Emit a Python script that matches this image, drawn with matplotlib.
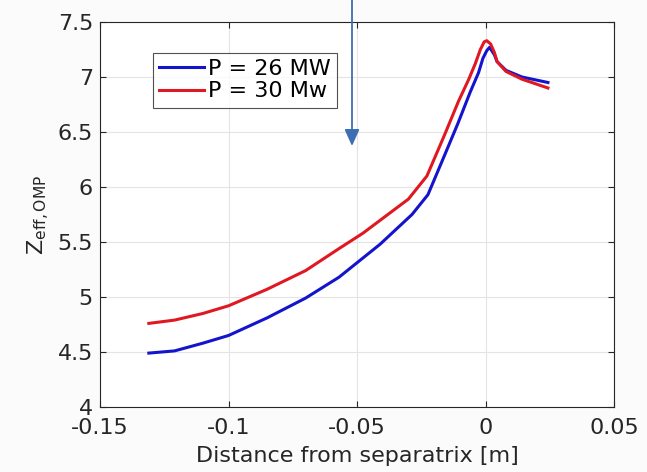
import matplotlib
matplotlib.use("Agg")
import matplotlib.pyplot as plt

# distance from separatrix [m] and Zeff at the outer midplane
x_26mw = [-0.131, -0.121, -0.110, -0.100, -0.085, -0.070, -0.057, -0.041,
          -0.0286, -0.0224, -0.015, -0.0107, -0.006, -0.0027, -0.001, 0.0005,
          0.0016, 0.0035, 0.0045, 0.008, 0.0142, 0.0243]
z_26mw = [4.49, 4.51, 4.58, 4.65, 4.81, 4.99, 5.18, 5.48,
          5.75, 5.93, 6.34, 6.58, 6.86, 7.04, 7.17, 7.24,
          7.27, 7.20, 7.14, 7.06, 7.00, 6.95]

x_30mw = [-0.131, -0.121, -0.110, -0.100, -0.085, -0.070, -0.057, -0.0477,
          -0.030, -0.0228, -0.016, -0.0105, -0.0065, -0.004, -0.002, -0.0005,
          0.0005, 0.002, 0.0035, 0.0045, 0.008, 0.0142, 0.0243]
z_30mw = [4.76, 4.79, 4.85, 4.92, 5.07, 5.24, 5.44, 5.58,
          5.89, 6.10, 6.47, 6.78, 6.98, 7.12, 7.25, 7.32,
          7.33, 7.30, 7.22, 7.14, 7.05, 6.98, 6.90]

labels = ["P = 26 MW", "P = 30 Mw"]

fig = plt.figure(figsize=(6.47, 4.72), dpi=100, facecolor="#fbfbfb")
ax = fig.add_axes([100 / 647, 1 - 407 / 472, 514 / 647, 385 / 472])

ax.plot(x_26mw, z_26mw, color="#1414cc", lw=2.2, label=labels[0])
ax.plot(x_30mw, z_30mw, color="#e01822", lw=2.2, label=labels[1])

ax.set_xlim(-0.15, 0.05)
ax.set_ylim(4, 7.5)
ax.set_xticks([-0.15, -0.1, -0.05, 0, 0.05])
ax.set_xticklabels(["-0.15", "-0.1", "-0.05", "0", "0.05"])
ax.set_yticks([4, 4.5, 5, 5.5, 6, 6.5, 7, 7.5])
ax.set_yticklabels(["4", "4.5", "5", "5.5", "6", "6.5", "7", "7.5"])

ax.grid(True, color="#e4e4e4", lw=0.8)
ax.set_axisbelow(True)
ax.tick_params(direction="in", top=True, right=True, length=4, width=0.8,
               labelsize=16, colors="#262626", pad=5)
ax.tick_params(axis="x", pad=8)
for s in ax.spines.values():
    s.set_color("#262626")
    s.set_linewidth(0.8)

ax.set_xlabel("Distance from separatrix [m]", fontsize=16, color="#262626", labelpad=6)
ax.set_ylabel(r"Z$_{\mathrm{eff,OMP}}$", fontsize=16, color="#262626", labelpad=4)

leg = ax.legend(loc="upper left", bbox_to_anchor=(53 / 514, 1 - 31 / 385), fontsize=16,
                frameon=True, fancybox=False, handlelength=2.0, handletextpad=0.2,
                borderpad=0.28, labelspacing=0.1, borderaxespad=0)
leg.get_frame().set_edgecolor("#262626")
leg.get_frame().set_linewidth(0.8)

# annotation arrow drawn over the figure
ax.annotate("", xy=(352 / 647, 1 - 146 / 472), xytext=(352 / 647, 1.0),
            xycoords="figure fraction", textcoords="figure fraction",
            arrowprops=dict(arrowstyle="-|>,head_length=1.0,head_width=0.45",
                            color="#3d6eb4", lw=1.3, shrinkA=0, shrinkB=0),
            annotation_clip=False)

fig.savefig("out.png", dpi=100, facecolor=fig.get_facecolor())
